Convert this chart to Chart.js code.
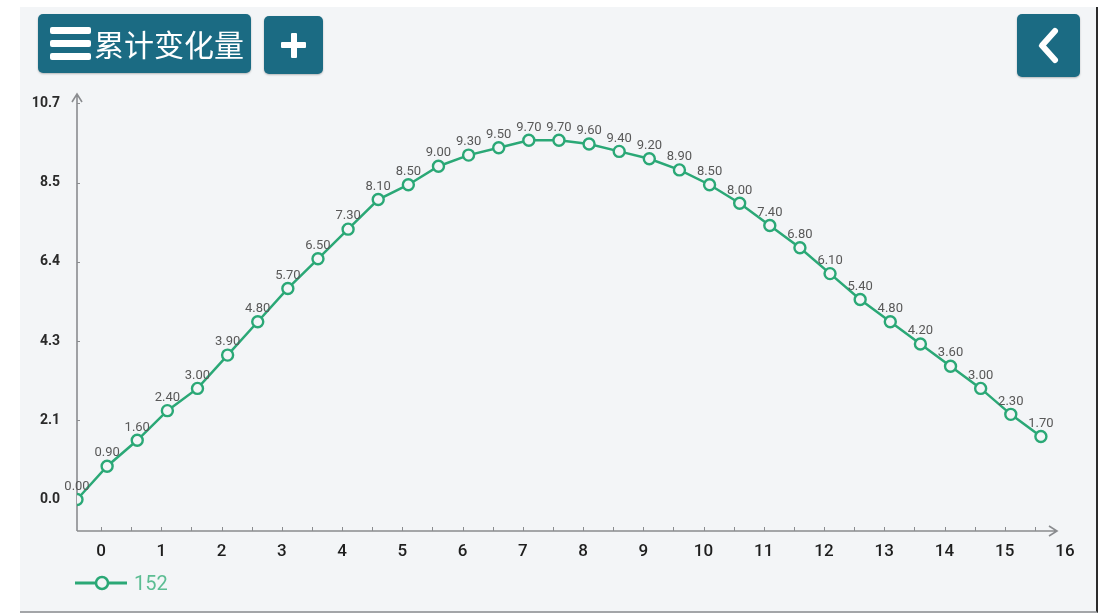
<!DOCTYPE html>
<html>
<head>
<meta charset="utf-8">
<script src="https://cdn.jsdelivr.net/npm/chart.js@4.4.1/dist/chart.umd.min.js"></script>
<style>
  html, body { margin: 0; padding: 0; background: #ffffff; }
  body { width: 1098px; height: 613px; position: relative; overflow: hidden; font-family: Roboto, "Noto Sans CJK SC", sans-serif; }
  #panel { position: absolute; left: 20px; top: 7px; width: 1076px; height: 604px; background: #f3f5f7; border-bottom: 2px solid #a3a5a8; border-right: 2px solid #2b2b2b; }
  .btn { position: absolute; background: #1b6b83; border-radius: 5px; color: #fff; box-shadow: 0 1px 2px rgba(0,0,0,0.25); }
  #menuBtn { left: 38px; top: 14px; width: 213px; height: 59px; }
  #menuBtn .bars { position: absolute; left: 12px; top: 13px; width: 41px; }
  #menuBtn .bars div { height: 7px; background: #fff; border-radius: 2px; margin-bottom: 6px; }
  #menuBtn .label { position: absolute; left: 56px; top: 9px; font-family: "Noto Sans CJK SC", sans-serif; font-size: 30px; line-height: 40px; }
  #plusBtn { left: 264px; top: 16px; width: 59px; height: 58px; }
  #plusBtn .h { position: absolute; left: 17px; top: 26px; width: 25px; height: 6px; background: #fff; border-radius: 1px; }
  #plusBtn .v { position: absolute; left: 26.5px; top: 16.5px; width: 6px; height: 25px; background: #fff; border-radius: 1px; }
  #backBtn { left: 1017px; top: 14px; width: 63px; height: 63px; }
  #chart { position: absolute; left: 0; top: 0; }
  #legend { position: absolute; left: 75px; top: 570px; height: 26px; }
  #legend .txt { position: absolute; left: 59px; top: 0; font-size: 20px; line-height: 26px; color: #5cbd93; font-family: Roboto, sans-serif; }
</style>
</head>
<body>
<div id="panel"></div>
<canvas id="chart" width="1098" height="613"></canvas>
<div class="btn" id="menuBtn">
  <div class="bars"><div></div><div></div><div></div></div>
  <div class="label">累计变化量</div>
</div>
<div class="btn" id="plusBtn"><div class="h"></div><div class="v"></div></div>
<div class="btn" id="backBtn">
  <svg width="63" height="63"><polyline points="38,17 25,31.5 38,46" fill="none" stroke="#fff" stroke-width="6" stroke-linecap="round" stroke-linejoin="round"/></svg>
</div>
<div id="legend">
  <svg width="56" height="26"><line x1="0" y1="13" x2="52" y2="13" stroke="#2aa876" stroke-width="3"/><circle cx="27" cy="13" r="6" fill="#f3f5f7" stroke="#2aa876" stroke-width="2.5"/></svg>
  <span class="txt">152</span>
</div>
<script>
// series
const seriesName = '152';
const xValues = [-0.4, 0.1, 0.6, 1.1, 1.6, 2.1, 2.6, 3.1, 3.6, 4.1, 4.6, 5.1, 5.6, 6.1, 6.6, 7.1, 7.6,
                 8.1, 8.6, 9.1, 9.6, 10.1, 10.6, 11.1, 11.6, 12.1, 12.6, 13.1, 13.6, 14.1, 14.6, 15.1, 15.6];
const yValues = [0.00, 0.90, 1.60, 2.40, 3.00, 3.90, 4.80, 5.70, 6.50, 7.30, 8.10, 8.50, 9.00, 9.30, 9.50, 9.70, 9.70,
                 9.60, 9.40, 9.20, 8.90, 8.50, 8.00, 7.40, 6.80, 6.10, 5.40, 4.80, 4.20, 3.60, 3.00, 2.30, 1.70];

// axes
const xTickValues = [0, 1, 2, 3, 4, 5, 6, 7, 8, 9, 10, 11, 12, 13, 14, 15, 16];
const xMinorTicks = [0, 0.5, 1, 1.5, 2, 2.5, 3, 3.5, 4, 4.5, 5, 5.5, 6, 6.5, 7, 7.5, 8, 8.5,
                     9, 9.5, 10, 10.5, 11, 11.5, 12, 12.5, 13, 13.5, 14, 14.5, 15, 15.5];
const yTickValues = [0, 2.14, 4.28, 6.42, 8.56, 10.7];
const yTickLabels = ['0.0', '2.1', '4.3', '6.4', '8.5', '10.7'];

const lineColor = '#2aa876';
const axisColor = '#8a8c8f';

// axis lines with arrows, drawn under the series
const axisPlugin = {
    id: 'arrowAxes',
    beforeDatasetsDraw(chart) {
        const ctx = chart.ctx;
        const area = chart.chartArea;
        const xs = chart.scales.x;
        const ys = chart.scales.y;
        const x0 = area.left, y0 = area.bottom;
        const xEnd = area.right - 8;
        ctx.save();
        ctx.strokeStyle = axisColor;
        ctx.lineWidth = 1.6;
        ctx.beginPath();
        ctx.moveTo(x0, y0);
        ctx.lineTo(x0, area.top);
        ctx.moveTo(x0 - 5, area.top + 8);
        ctx.lineTo(x0, area.top);
        ctx.lineTo(x0 + 5, area.top + 8);
        ctx.moveTo(x0, y0);
        ctx.lineTo(xEnd, y0);
        ctx.moveTo(xEnd - 8, y0 - 5);
        ctx.lineTo(xEnd, y0);
        ctx.lineTo(xEnd - 8, y0 + 5);
        ctx.stroke();
        ctx.lineWidth = 1;
        ctx.beginPath();
        xMinorTicks.forEach(v => {
            const px = Math.round(xs.getPixelForValue(v)) + 0.5;
            ctx.moveTo(px, y0);
            ctx.lineTo(px, y0 - 4);
        });
        yTickValues.forEach(v => {
            const py = Math.round(ys.getPixelForValue(v)) + 0.5;
            ctx.moveTo(x0, py);
            ctx.lineTo(x0 + 3, py);
        });
        ctx.stroke();
        ctx.restore();
    }
};

// value labels over each point
const valueLabels = {
    id: 'valueLabels',
    afterDatasetsDraw(chart) {
        const ctx = chart.ctx;
        ctx.save();
        ctx.font = '13px Roboto, sans-serif';
        ctx.fillStyle = '#585858';
        ctx.textAlign = 'center';
        ctx.textBaseline = 'middle';
        chart.getDatasetMeta(0).data.forEach((pt, i) => {
            ctx.fillText(yValues[i].toFixed(2), pt.x, pt.y - 13);
        });
        ctx.restore();
    }
};

function createChart() {
    const ctx = document.getElementById('chart').getContext('2d');
    new Chart(ctx, {
        type: 'line',
        data: {
            datasets: [{
                label: seriesName,
                data: xValues.map((x, i) => ({ x: x, y: yValues[i] })),
                borderColor: lineColor,
                backgroundColor: '#f3f5f7',
                borderWidth: 2.5,
                pointRadius: 5.5,
                pointBorderWidth: 2.4,
                pointBackgroundColor: '#f3f5f7',
                pointBorderColor: lineColor,
                tension: 0
            }]
        },
        options: {
            responsive: false,
            animation: false,
            layout: { padding: { top: 94, right: 33, left: 0, bottom: 0 } },
            plugins: {
                legend: { display: false },
                tooltip: { enabled: false }
            },
            scales: {
                x: {
                    type: 'linear',
                    min: -0.4,
                    max: 16,
                    border: { display: false },
                    grid: { display: false, drawTicks: false },
                    afterBuildTicks: s => { s.ticks = xTickValues.map(v => ({ value: v })); },
                    afterFit: s => { s.height = 82; },
                    ticks: {
                        autoSkip: false,
                        maxRotation: 0,
                        padding: 11,
                        color: '#1e1e1e',
                        font: { family: 'Roboto, sans-serif', size: 17, weight: '500' },
                        callback: v => String(v)
                    }
                },
                y: {
                    min: -0.85,
                    max: 10.95,
                    border: { display: false },
                    grid: { display: false, drawTicks: false },
                    afterBuildTicks: s => { s.ticks = yTickValues.map(v => ({ value: v })); },
                    afterFit: s => { s.width = 77; },
                    ticks: {
                        autoSkip: false,
                        padding: 17,
                        color: '#2a2a2a',
                        font: { family: 'Roboto, sans-serif', size: 14, weight: 'bold' },
                        callback: v => yTickLabels[yTickValues.indexOf(v)]
                    }
                }
            }
        },
        plugins: [axisPlugin, valueLabels]
    });
}

document.addEventListener('DOMContentLoaded', createChart);
</script>
</body>
</html>
